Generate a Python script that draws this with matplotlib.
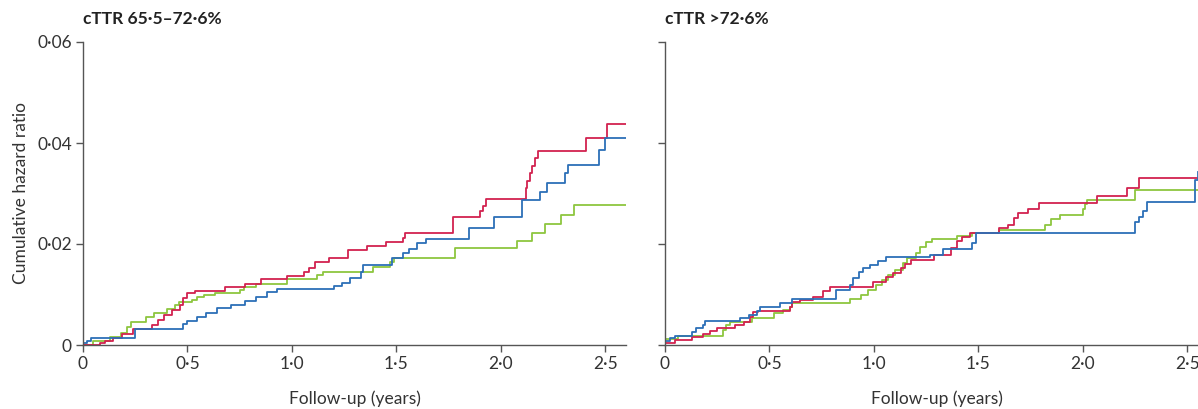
import numpy as np
import matplotlib
matplotlib.use("Agg")
import matplotlib.pyplot as plt

plt.rcParams['font.family'] = ['Lato', 'DejaVu Sans']

# panel titles and tick labels
titles = ["cTTR 65·5–72·6%", "cTTR >72·6%"]
x_ticks = [0, 0.5, 1.0, 1.5, 2.0, 2.5]
x_labels = ["0", "0·5", "1·0", "1·5", "2·0", "2·5"]
y_ticks = [0, 0.02, 0.04, 0.06]
y_labels = ["0", "0·02", "0·04", "0·06"]

# left panel: cTTR 65.5-72.6%
mid_red_t = [0, 0.08, 0.105, 0.145, 0.185, 0.24, 0.33, 0.36, 0.39, 0.425, 0.465, 0.48, 0.5, 0.535, 0.68,
             0.775, 0.85, 0.975, 1.06, 1.08, 1.11, 1.18, 1.27, 1.36, 1.45, 1.53, 1.54, 1.77, 1.9, 1.915,
             1.93, 2.12, 2.125, 2.14, 2.15, 2.165, 2.18, 2.41, 2.51, 2.6]
mid_red_v = [0, 0.0004, 0.0008, 0.0013, 0.0022, 0.0032, 0.004, 0.005, 0.006, 0.007, 0.008, 0.0093, 0.0103,
             0.0107, 0.0114, 0.012, 0.013, 0.0137, 0.0145, 0.0152, 0.0164, 0.0172, 0.0188, 0.0196, 0.0204,
             0.0212, 0.0222, 0.0254, 0.0265, 0.0275, 0.029, 0.031, 0.0325, 0.034, 0.0355, 0.037, 0.0385,
             0.041, 0.0438, 0.0438]
mid_blue_t = [0, 0.02, 0.04, 0.25, 0.48, 0.5, 0.545, 0.59, 0.64, 0.71, 0.775, 0.83, 0.88, 0.93, 1.2, 1.24,
              1.28, 1.33, 1.34, 1.48, 1.53, 1.56, 1.6, 1.64, 1.85, 1.97, 2.1, 2.19, 2.22, 2.31, 2.32, 2.47,
              2.5, 2.6]
mid_blue_v = [0.0004, 0.0008, 0.0013, 0.0032, 0.0041, 0.0048, 0.0056, 0.0064, 0.0073, 0.0079, 0.0088,
              0.0096, 0.0104, 0.011, 0.0117, 0.0123, 0.0132, 0.0145, 0.0158, 0.0172, 0.0182, 0.019, 0.0202,
              0.021, 0.0232, 0.0254, 0.0287, 0.0303, 0.032, 0.034, 0.0357, 0.0386, 0.041, 0.041]
mid_green_t = [0, 0.05, 0.13, 0.18, 0.21, 0.23, 0.3, 0.34, 0.4, 0.44, 0.46, 0.52, 0.545, 0.58, 0.63, 0.75,
               0.77, 0.83, 0.975, 1.12, 1.15, 1.39, 1.47, 1.49, 1.78, 2.08, 2.15, 2.21, 2.29, 2.35, 2.6]
mid_green_v = [0, 0.0007, 0.0015, 0.0024, 0.0036, 0.0045, 0.0055, 0.0063, 0.0071, 0.008, 0.0085, 0.0089,
               0.0095, 0.0099, 0.0103, 0.0109, 0.0115, 0.012, 0.013, 0.0139, 0.0145, 0.0154, 0.0164, 0.0172,
               0.0192, 0.0206, 0.0222, 0.024, 0.0257, 0.0277, 0.0277]

# right panel: cTTR >72.6%
hi_red_t = [0, 0.05, 0.13, 0.18, 0.215, 0.25, 0.335, 0.38, 0.405, 0.42, 0.445, 0.6, 0.61, 0.645, 0.71, 0.755,
            0.79, 0.995, 1.06, 1.09, 1.13, 1.15, 1.18, 1.29, 1.37, 1.4, 1.42, 1.46, 1.6, 1.64, 1.67, 1.69,
            1.74, 1.79, 2.07, 2.21, 2.27, 2.6]
hi_red_v = [0.0004, 0.001, 0.0016, 0.0022, 0.0028, 0.0034, 0.004, 0.0046, 0.0056, 0.0066, 0.0068, 0.0076,
            0.0086, 0.0089, 0.0096, 0.0106, 0.0115, 0.0125, 0.0134, 0.0142, 0.0152, 0.016, 0.0168, 0.0178,
            0.0192, 0.0205, 0.0214, 0.0222, 0.0231, 0.0238, 0.0251, 0.0261, 0.0269, 0.0282, 0.0295, 0.031,
            0.033, 0.033]
hi_blue_t = [0, 0.024, 0.05, 0.13, 0.15, 0.18, 0.19, 0.36, 0.4, 0.44, 0.455, 0.55, 0.61, 0.82, 0.885, 0.9,
             0.93, 0.95, 0.98, 1.02, 1.06, 1.27, 1.33, 1.47, 1.49, 2.25, 2.27, 2.29, 2.31, 2.54, 2.55]
hi_blue_v = [0.0008, 0.0014, 0.0018, 0.0026, 0.0034, 0.004, 0.0048, 0.0053, 0.006, 0.0068, 0.0076, 0.0084,
             0.0092, 0.0109, 0.0119, 0.0132, 0.0145, 0.0152, 0.0158, 0.0166, 0.0174, 0.0178, 0.019, 0.0202,
             0.0222, 0.0244, 0.0254, 0.0265, 0.0284, 0.0327, 0.0343]
hi_green_t = [0, 0.06, 0.28, 0.29, 0.31, 0.415, 0.52, 0.565, 0.6, 0.61, 0.885, 0.94, 0.97, 1.01, 1.04, 1.07,
              1.1, 1.14, 1.16, 1.2, 1.22, 1.25, 1.28, 1.4, 1.47, 1.6, 1.82, 1.85, 1.89, 2.0, 2.01, 2.02,
              2.25, 2.6]
hi_green_v = [0.0012, 0.0018, 0.003, 0.004, 0.0046, 0.0053, 0.0063, 0.0069, 0.0076, 0.0083, 0.0091, 0.0099,
              0.0109, 0.0119, 0.0129, 0.0139, 0.0149, 0.0162, 0.0172, 0.0182, 0.0195, 0.0203, 0.021, 0.0216,
              0.0222, 0.0228, 0.0238, 0.025, 0.0257, 0.027, 0.028, 0.0287, 0.0306, 0.0306]

GREEN = "#8dc63f"
RED = "#d2224f"
BLUE = "#2c6fb7"
AXC = "#555555"
FS = 12.5

fig = plt.figure(figsize=(11.98, 4.09), dpi=100)
ax1 = fig.add_axes([83 / 1198, 64 / 409, 543 / 1198, 303 / 409])
ax2 = fig.add_axes([665 / 1198, 64 / 409, 543 / 1198, 303 / 409])

panels = [
    (ax1, [(mid_green_t, mid_green_v, GREEN), (mid_red_t, mid_red_v, RED), (mid_blue_t, mid_blue_v, BLUE)]),
    (ax2, [(hi_green_t, hi_green_v, GREEN), (hi_red_t, hi_red_v, RED), (hi_blue_t, hi_blue_v, BLUE)]),
]

for i, (ax, series) in enumerate(panels):
    for t, v, c in series:
        ax.step(t, v, where="post", color=c, lw=1.3)
    ax.set_xlim(0, 2.6)
    ax.set_ylim(0, 0.06)
    for s in ["top", "right"]:
        ax.spines[s].set_visible(False)
    for s in ["left", "bottom"]:
        ax.spines[s].set_color(AXC)
        ax.spines[s].set_linewidth(1.0)
    ax.set_xticks(x_ticks)
    ax.set_xticklabels(x_labels)
    ax.set_yticks(y_ticks)
    if i == 0:
        ax.set_yticklabels(y_labels)
        ax.set_ylabel("Cumulative hazard ratio", fontsize=FS, color="#333333", labelpad=6)
    else:
        ax.set_yticklabels([])
    ax.tick_params(direction="out", length=5, width=1.0, color=AXC, labelsize=FS,
                   labelcolor="#333333", pad=3)
    ax.set_xlabel("Follow-up (years)", fontsize=FS, color="#333333", labelpad=13)
    ax.set_title(titles[i], loc="left", fontsize=FS, fontweight="bold", color="#222222", pad=13)

fig.savefig("out.png", dpi=100)
